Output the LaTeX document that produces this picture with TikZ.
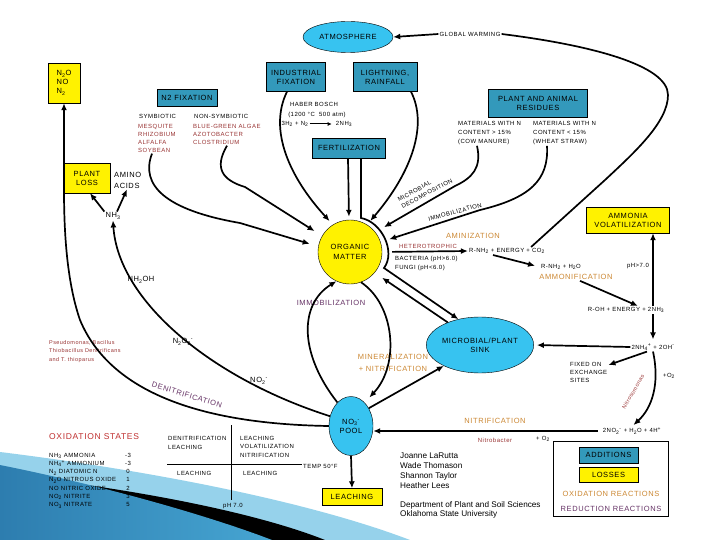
\documentclass[tikz,border=0pt]{standalone}
\usepackage{fontspec}
\setmainfont{Liberation Sans}[LetterSpace=8]
\newfontfamily\plainsans{Liberation Sans}
\usetikzlibrary{arrows.meta,shapes.geometric}

\definecolor{addteal}{RGB}{51,153,187}
\definecolor{poolblue}{RGB}{55,195,240}
\definecolor{bugred}{RGB}{153,51,51}
\definecolor{oxorange}{RGB}{204,136,51}
\definecolor{redpurple}{RGB}{102,51,102}
\definecolor{titlered}{RGB}{192,48,48}
\definecolor{swooshlight}{RGB}{150,210,235}
\definecolor{swooshmid}{RGB}{70,165,210}
\definecolor{swooshdark}{RGB}{45,125,175}

\tikzset{
  every node/.style={inner sep=1pt},
  addbox/.style={draw, fill=addteal, align=center, font=\fontsize{7.5}{9}\selectfont},
  lossbox/.style={draw, fill=yellow, align=center, font=\fontsize{7.5}{9}\selectfont},
  pool/.style={draw, ellipse, fill=poolblue, align=center, inner sep=0pt, font=\fontsize{7.5}{9}\selectfont},
  tag/.style={font=\fontsize{6}{8}\selectfont},
  chem/.style={font=\fontsize{7.5}{9}\selectfont},
  process/.style={font=\fontsize{7.5}{9}\selectfont},
  flow/.style={line width=1.7pt, -{Latex[length=7pt,width=6pt]}},
  wire/.style={line width=1.7pt},
}

\begin{document}
\begin{tikzpicture}[x=1pt, y=-1pt]
\fill[white] (0,0) rectangle (720,540);
\useasboundingbox (0,0) rectangle (720,540);

% slide decoration
\fill[swooshlight] (0,452) .. controls (130,468) and (300,498) .. (410,540) -- (0,540) -- cycle;
\fill[black] (80,484) .. controls (165,496) and (262,515) .. (325,540) -- (0,540) -- cycle;
\shade[left color=swooshdark, right color=swooshmid] (0,465) .. controls (110,487) and (215,518) .. (272,540) -- (0,540) -- cycle;

% sources
\node[pool, minimum width=90pt, minimum height=31pt] (atm) at (348,37) {ATMOSPHERE};
\node[tag] (gw) at (470,34) {GLOBAL WARMING};
\node[lossbox, align=left, minimum width=32pt, minimum height=40pt] (nox) at (64,83) {N\textsubscript{2}O\\NO\\N\textsubscript{2}};
\node[addbox, minimum width=59pt, minimum height=29pt] (indfix) at (296,77) {INDUSTRIAL\\FIXATION};
\node[addbox, minimum width=64pt, minimum height=29pt] (light) at (385,77) {LIGHTNING,\\RAINFALL};
\node[addbox, minimum width=60pt, minimum height=17pt] (nfix) at (187,98) {N2 FIXATION};
\node[tag, anchor=west] (symb) at (138,116) {SYMBIOTIC};
\node[tag, anchor=west] (nonsymb) at (193,116) {NON-SYMBIOTIC};
\node[tag, anchor=north west, align=left, text=bugred] (legumes) at (137,123) {MESQUITE\\RHIZOBIUM\\ALFALFA\\SOYBEAN};
\node[tag, anchor=north west, align=left, text=bugred] (freeliv) at (192,123) {BLUE-GREEN ALGAE\\AZOTOBACTER\\CLOSTRIDIUM};
\node[tag] (haber) at (314,104) {HABER BOSCH};
\node[tag] (hbcond) at (317,115) {(1200 \textdegree C\ \ 500 atm)};
\node[tag] (hbin) at (295,124) {3H\textsubscript{2} + N\textsubscript{2}};
\node[tag] (hbout) at (344,124) {2NH\textsubscript{3}};
\node[addbox, minimum width=73pt, minimum height=20pt] (fert) at (349,148) {FERTILIZATION};
\node[addbox, minimum width=99pt, minimum height=28pt] (resid) at (538,103) {PLANT AND ANIMAL\\RESIDUES};
\node[tag, anchor=north west, align=left, font=\fontsize{6}{9}\selectfont] (manure) at (457,120) {MATERIALS WITH N\\CONTENT > 15\%\\(COW MANURE)};
\node[tag, anchor=north west, align=left, font=\fontsize{6}{9}\selectfont] (straw) at (532,120) {MATERIALS WITH N\\CONTENT < 15\%\\(WHEAT STRAW)};

% left side
\node[lossbox, minimum width=46pt, minimum height=30pt] (ploss) at (87,178) {PLANT\\LOSS};
\node[chem, anchor=west, align=left, font=\fontsize{7.5}{11}\selectfont] (amino) at (113,180) {AMINO\\ACIDS};
\node[chem] (nh3) at (113,216) {NH\textsubscript{3}};
\node[chem] (nh2oh) at (141,280) {NH\textsubscript{2}OH};
\node[chem] (n2o2) at (183,342) {N\textsubscript{2}O\textsubscript{2}\textsuperscript{-}};
\node[chem] (no2) at (259,381) {NO\textsubscript{2}\textsuperscript{-}};
\node[process, text=redpurple, rotate=-17] (denit) at (187,395) {DENITRIFICATION};
\node[tag, anchor=north west, align=left, text=bugred, font=\fontsize{5.5}{8.5}\selectfont] (bugs) at (48,339) {Pseudomonas, Bacillus\\Thiobacillus Denitrificans\\and T. thioparus};

% centre
\node[circle, draw, fill=yellow, minimum size=64pt, align=center, inner sep=0pt, font=\fontsize{7.5}{10}\selectfont] (om) at (350,252) {ORGANIC\\MATTER};
\node[tag, rotate=28, align=left] (decomp) at (425,190) {MICROBIAL\\DECOMPOSITION};
\node[tag, rotate=15] (immob) at (455,212) {IMMOBILIZATION};
\node[process, text=oxorange] (amin) at (473,236) {AMINIZATION};
\node[tag, text=bugred] (hetero) at (428,246) {HETEROTROPHIC};
\node[tag] (rnh2) at (507,251) {R-NH\textsubscript{2} + ENERGY + CO\textsubscript{2}};
\node[tag, anchor=north west, align=left, font=\fontsize{6}{8.5}\selectfont] (bactfung) at (394,255) {BACTERIA (pH>6.0)\\FUNGI (pH<6.0)};
\node[tag] (rnh2w) at (561,267) {R-NH\textsubscript{2} + H\textsubscript{2}O};
\node[process, text=oxorange] (ammonif) at (576,277) {AMMONIFICATION};
\node[tag] (roh) at (626,310) {R-OH + ENERGY + 2NH\textsubscript{3}};
\node[tag] (ph7) at (638,266) {pH>7.0};
\node[lossbox, minimum width=83pt, minimum height=26pt] (amvol) at (628,220) {AMMONIA\\VOLATILIZATION};
\node[tag] (nh4) at (653,347) {2NH\textsubscript{4}\textsuperscript{+} + 2OH\textsuperscript{-}};
\node[pool, minimum width=96pt, minimum height=56pt] (sink) at (480,345) {MICROBIAL/PLANT\\SINK};
\node[tag, anchor=north west, align=left] (fixed) at (569,361) {FIXED ON\\EXCHANGE\\SITES};
\node[tag] (no2out) at (632,431) {2NO\textsubscript{2}\textsuperscript{-} + H\textsubscript{2}O + 4H\textsuperscript{+}};
\node[tag, text=bugred, rotate=60, font=\fontsize{5.5}{6}\selectfont] (nitroso) at (633,392) {Nitrosomonas};
\node[tag] (o2a) at (669,376) {+O\textsubscript{2}};
\node[process, text=oxorange] (nitrif) at (495,421) {NITRIFICATION};
\node[tag, text=bugred] (nitrob) at (495,440) {Nitrobacter};
\node[tag] (o2b) at (543,439) {+ O\textsubscript{2}};
\node[process, text=oxorange, align=center, font=\fontsize{7.5}{12}\selectfont] (minnit) at (393,363) {MINERALIZATION\\+ NITRIFICATION};
\node[process, text=redpurple] (immob2) at (331,303) {IMMOBILIZATION};
\node[pool, minimum width=44pt, minimum height=59pt] (no3) at (351,426) {NO\textsubscript{3}\textsuperscript{-}\\POOL};
\node[lossbox, minimum width=60pt, minimum height=17pt] (leach) at (352,497) {LEACHING};

% bottom
\node[anchor=west, text=titlered, font=\fontsize{8.5}{10}\selectfont] (oxtitle) at (48,437) {OXIDATION STATES};
\node[tag, anchor=north west, align=left, font=\fontsize{6}{8.2}\selectfont] (oxnames) at (48,452) {NH\textsubscript{3} AMMONIA\\NH\textsubscript{4}\textsuperscript{+} AMMONIUM\\N\textsubscript{2} DIATOMIC N\\N\textsubscript{2}O NITROUS OXIDE\\NO NITRIC OXIDE\\NO\textsubscript{2} NITRITE\\NO\textsubscript{3} NITRATE};
\node[tag, anchor=north, align=center, font=\fontsize{6}{8.2}\selectfont] (oxvals) at (128,452) {-3\\-3\\0\\1\\2\\3\\5};
\node[tag, anchor=north west, align=left, font=\fontsize{6}{9}\selectfont] (tl) at (167,435) {DENITRIFICATION\\LEACHING};
\node[tag, anchor=north west, align=left, font=\fontsize{6}{8.5}\selectfont] (tr) at (239,435) {LEACHING\\VOLATILIZATION\\NITRIFICATION};
\node[tag, anchor=west] (temp) at (302,466) {TEMP 50\textdegree F};
\node[tag, anchor=west] (bl) at (176,473) {LEACHING};
\node[tag, anchor=west] (br) at (242,473) {LEACHING};
\node[tag] (ph7b) at (233,506) {pH 7.0};
\draw (231,425) -- (231,500);
\draw (167,464) -- (302,464);
\node[anchor=north west, align=left, font=\plainsans\fontsize{8.2}{9.8}\selectfont] (authors) at (399,452) {Joanne LaRutta\\Wade Thomason\\Shannon Taylor\\Heather Lees};
\node[anchor=north west, align=left, font=\plainsans\fontsize{8.2}{9}\selectfont] (dept) at (399,500) {Department of Plant and Soil Sciences\\Oklahoma State University};
\node[draw, fill=white, minimum width=115pt, minimum height=75pt] (key) at (610.5,478.5) {};
\node[addbox, minimum width=59pt, minimum height=16pt] (keyadd) at (608.5,455) {ADDITIONS};
\node[lossbox, minimum width=59pt, minimum height=15pt] (keyloss) at (608.5,474.5) {LOSSES};
\node[process, text=oxorange] (keyox) at (611,494) {OXIDATION REACTIONS};
\node[process, text=redpurple] (keyred) at (611,509) {REDUCTION REACTIONS};

% connectors
\draw[line width=1pt, -{Latex[length=4pt,width=4pt]}, shorten >=3pt] (hbin) -- (hbout);
\draw[flow] (gw.west) -- (atm.east);
\draw[wire] ([xshift=-15pt]rnh2.north east) -- (605,180) .. controls (635,152) and (668,122) .. (668,95) .. controls (668,65) and (590,45) .. (gw.east);
\draw[flow] (nh3.north west) -- ([xshift=3pt]ploss.south);
\draw[flow] ([xshift=4pt]nh3.north) -- ([xshift=14pt]amino.south west);
\draw[flow] (no3.155) .. controls (210,378) and (118,300) .. (nh3.south);
\draw[flow] (no3.west) .. controls (200,424) and (110,392) .. (80,320) .. controls (68,285) and (64,240) .. (64,190) -- (nox.south);
\draw[flow, shorten >=9pt] ([xshift=35pt]freeliv.south west) .. controls (214,168) and (222,180) .. (245,187) -- (om.150);
\draw[flow, shorten >=9pt] ([xshift=15pt]legumes.south west) .. controls (140,185) and (165,210) .. (240,223) -- (om.170);
\draw[flow, shorten >=5pt] ([xshift=-9pt]indfix.south) .. controls (268,130) and (290,178) .. (om.122);
\draw[flow, shorten >=3pt] ([xshift=-1pt]fert.south) -- ([xshift=-1pt]om.north);
\draw[flow] ([xshift=12pt]fert.south) -- (361,218) .. controls (382,222) and (396,252) .. (384,268) -- (sink.130);
\draw[flow, shorten >=5pt] ([xshift=26pt]light.south) .. controls (428,125) and (412,172) .. (om.58);
\draw[flow, shorten >=10pt] ([xshift=20pt]manure.south west) .. controls (482,168) and (472,178) .. (455,186) -- (om.38);
\draw[flow, shorten >=9pt] ([xshift=15pt]straw.south west) .. controls (549,180) and (530,198) .. (480,210) -- (om.18);
\draw[flow, shorten <=10pt] (om.east) -- (rnh2.west);
\draw[flow, shorten >=5pt] ([xshift=-14pt]rnh2.south) -- (rnh2w.west);
\draw[flow] ([xshift=4pt]ammonif.south) -- ([xshift=12pt]roh.north);
\draw[flow] ([xshift=27pt]roh.north) -- ([xshift=25pt]amvol.south);
\draw[flow, shorten >=3pt] ([xshift=27pt]roh.south) -- (nh4.north);
\draw[flow, shorten >=3pt] (nh4.west) -- (sink.east);
\draw[flow, shorten >=9pt] (sink.145) -- (om.-40);
\draw[flow] ([xshift=-6pt]nh4.south) -- ([yshift=-4pt]fixed.north east);
\draw[flow, shorten >=2pt] (nh4.south) .. controls (660,384) and (652,408) .. (no2out.north);
\draw[flow] ([xshift=-4pt]no2out.west) -- (no3.east |- no2out.west);
\draw[flow, shorten >=7pt] (om.-70) .. controls (395,305) and (400,365) .. (no3.60);
\draw[flow] (no3.120) .. controls (300,355) and (298,305) .. (om.-115);
\draw[flow] (no3.45) -- (sink.-150);
\draw[flow] (no3.south) -- (leach.north);
\end{tikzpicture}
\end{document}
